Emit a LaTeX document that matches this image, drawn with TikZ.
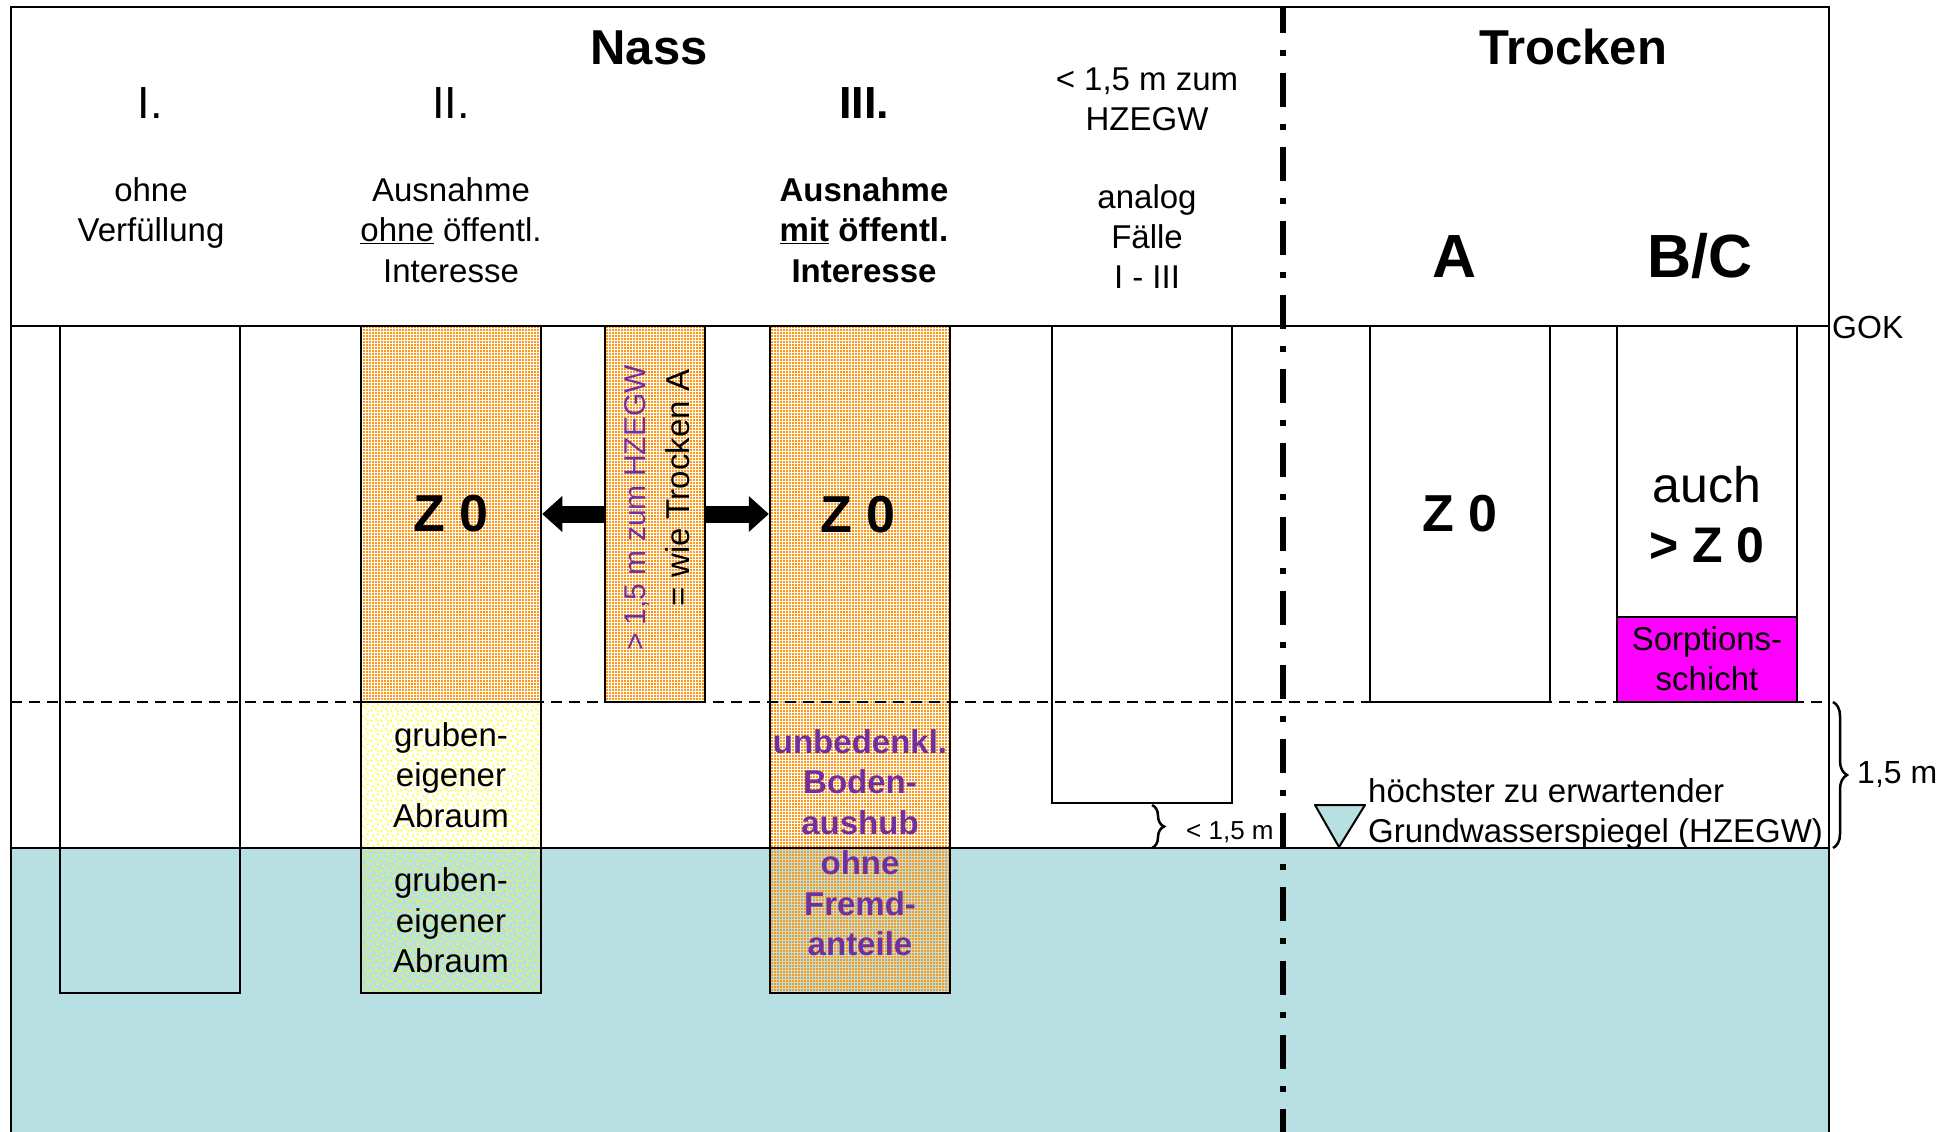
\documentclass[tikz,border=0pt]{standalone}
\usepackage{fontspec}
\setmainfont{Liberation Sans}
\usetikzlibrary{patterns,arrows.meta,decorations.pathreplacing}
\definecolor{water}{RGB}{184,223,226}
\definecolor{dotor}{RGB}{255,150,20}
\definecolor{doty}{RGB}{255,255,0}
\definecolor{lila}{RGB}{112,48,160}
\definecolor{magen}{RGB}{255,0,255}
\pgfdeclarepatternformonly{odots}{\pgfpointorigin}{\pgfpoint{3pt}{3pt}}{\pgfpoint{3pt}{3pt}}{%
  \pgfpathrectangle{\pgfpointorigin}{\pgfpoint{2.5pt}{2.5pt}}\pgfusepath{fill}}
\pgfdeclarepatternformonly{ydots}{\pgfpointorigin}{\pgfpoint{10pt}{10pt}}{\pgfpoint{10pt}{10pt}}{%
  \pgfpathcircle{\pgfpoint{1.5pt}{1.5pt}}{1.2pt}%
  \pgfpathcircle{\pgfpoint{6.5pt}{3.5pt}}{1.2pt}%
  \pgfpathcircle{\pgfpoint{3.5pt}{6.5pt}}{1.2pt}%
  \pgfpathcircle{\pgfpoint{8.5pt}{8.5pt}}{1.2pt}%
  \pgfpathcircle{\pgfpoint{8.8pt}{1pt}}{1pt}%
  \pgfusepath{fill}}
\newcommand\fsz[2]{\fontsize{#1}{#2}\selectfont}
\tikzset{
  box/.style={draw=black, line width=2.5pt, inner sep=0pt, minimum width=180pt},
  orbox/.style={box, pattern=odots, pattern color=dotor},
  yebox/.style={box, pattern=ydots, pattern color=doty},
  frame/.style={line width=2.5pt},
  tx/.style={inner sep=0pt, align=center, font=\fsz{33}{40.5}},
  txb/.style={tx, font=\fsz{33}{40.5}\bfseries},
  title/.style={inner sep=0pt, anchor=base, font=\fsz{49}{58}\bfseries},
  roman/.style={inner sep=0pt, anchor=base, font=\fsz{45}{54}},
  big/.style={inner sep=0pt, anchor=base, font=\fsz{61}{72}\bfseries},
  zed/.style={font=\fsz{52}{62}\bfseries},
  bigarr/.style={line width=17pt, -{Triangle[length=20pt, width=36pt, line width=0pt]}},
  dashdotline/.style={line width=5.5pt, dash pattern=on 34pt off 17pt on 6pt off 17pt, dash phase=8pt},
  brace/.style={line width=2.5pt, decorate, decoration={brace, amplitude=14pt}}
}
\begin{document}
\begin{tikzpicture}[x=1pt, y=-1pt]
\useasboundingbox (0,0) rectangle (1959,1132);
% water
\fill[water] (11,848) rectangle (1829,1132);
% columns
\node[box, minimum height=667pt] (c1) at (150,659.5) {};
\node[orbox, minimum height=376pt] (c2a) at (451,514) {\fsz{52}{62}\bfseries Z 0};
\node[yebox, minimum height=146pt, align=center, font=\fsz{33}{40.5}] (c2b) at (451,775) {gruben-\\eigener\\Abraum};
\node[yebox, minimum height=145pt, align=center, font=\fsz{33}{40.5}] (c2c) at (451,920.5) {gruben-\\eigener\\Abraum};
\node[orbox, minimum width=100pt, minimum height=376pt] (mid) at (655,514) {};
\node[orbox, minimum height=667pt] (c3) at (860,659.5) {};
\node[box, minimum height=477pt] (c4) at (1142,564.5) {};
\node[box, minimum height=376pt] (c5) at (1460,514) {\fsz{52}{62}\bfseries Z 0};
\node[box, minimum height=291pt] (c6) at (1707,471.5) {};
\node[box, fill=magen, minimum height=85pt] (c6s) at (1707,659.5) {};
% frame and levels
\draw[frame] (11,1140) -- (11,7) -- (1829,7) -- (1829,1140);
\draw[frame] (11,326) -- (1829,326);
\draw[frame] (11,848) -- (1829,848);
\draw[line width=2.5pt, dash pattern=on 11pt off 7pt] (11,702) -- (1829,702);
% header texts
\node[title] (nass) at (649,65) {Nass};
\node[title] (trocken) at (1573,65) {Trocken};
\node[roman] (r1) at (150,118) {I.};
\node[roman] (r2) at (451,118) {II.};
\node[roman, font=\fsz{45}{54}\bfseries] (r3) at (864,118) {III.};
\node[tx, anchor=north] (h1) at (151,172.6) {\strut ohne\\Verfüllung};
\node[tx, anchor=north] (h2) at (451,172.6) {\strut Ausnahme\\\underline{ohne} öffentl.\\Interesse};
\node[txb, anchor=north] (h3) at (864,172.6) {\strut Ausnahme\\\underline{mit} öffentl.\\Interesse};
\node[tx, anchor=north, font=\fsz{33}{40}] (h4) at (1147,62) {\strut < 1,5 m zum\\HZEGW};
\node[tx, anchor=north, font=\fsz{33}{40}] (h5) at (1147,180) {\strut analog\\Fälle\\I - III};
\node[big] (ha) at (1455,277) {A};
\node[big] (hbc) at (1700,277) {B/C};
% texts in columns
\node[zed, inner sep=0pt] (z3) at (858,515) {Z 0};
\node[rotate=90, inner sep=0pt, text=lila, font=\fsz{30}{36}] (rv1) at (637,508) {> 1,5 m zum HZEGW};
\node[rotate=90, inner sep=0pt, font=\fsz{33}{40}] (rv2) at (678,488) {= wie Trocken A};
\node[txb, anchor=north, text=lila] (p1) at (860,724.6) {\strut unbedenkl.\\Boden-\\aushub\\ohne\\Fremd-\\anteile};
\node[inner sep=0pt, anchor=north, align=center, font=\fsz{50}{60}] (auch) at (1707,460) {\strut auch\\\bfseries > Z 0};
\node[tx, anchor=north, font=\fsz{33}{40}] (sorp) at (1707,622) {\strut Sorptions-\\schicht};
% arrows
\draw[bigarr] (mid.west) -- (c2a.east);
\draw[bigarr] (mid.east) -- (mid.east -| c3.west);
% groundwater marker
\draw[line width=2pt, fill=water, line join=round] (1315,805) -- (1365,805) -- (1339,847) -- cycle;
\node[inner sep=0pt, anchor=north west, align=left, font=\fsz{33}{39.5}] (hz) at (1368,775) {\strut höchster zu erwartender\\Grundwasserspiegel (HZEGW)};
% braces
\coordinate (bt) at (1833,702);
\coordinate (bb) at (1833,848);
\draw[brace] (bt) -- (bb);
\node[inner sep=0pt, anchor=west, font=\fsz{32}{38}] (m15) at (1857,775) {1,5 m};
\coordinate (st) at (1152,805);
\coordinate (sb) at (1152,848);
\draw[brace, decoration={brace, amplitude=12pt}] (st) -- (sb);
\node[inner sep=0pt, anchor=west, font=\fsz{26}{31}] (lt15) at (1186,832) {< 1,5 m};
\node[inner sep=0pt, anchor=west, font=\fsz{32}{38}] (gok) at (1832,327) {GOK};
% separator
\coordinate (sepT) at (1283,7);
\coordinate (sepB) at (1283,1132);
\draw[dashdotline] (sepT) -- (sepB);
\end{tikzpicture}
\end{document}
